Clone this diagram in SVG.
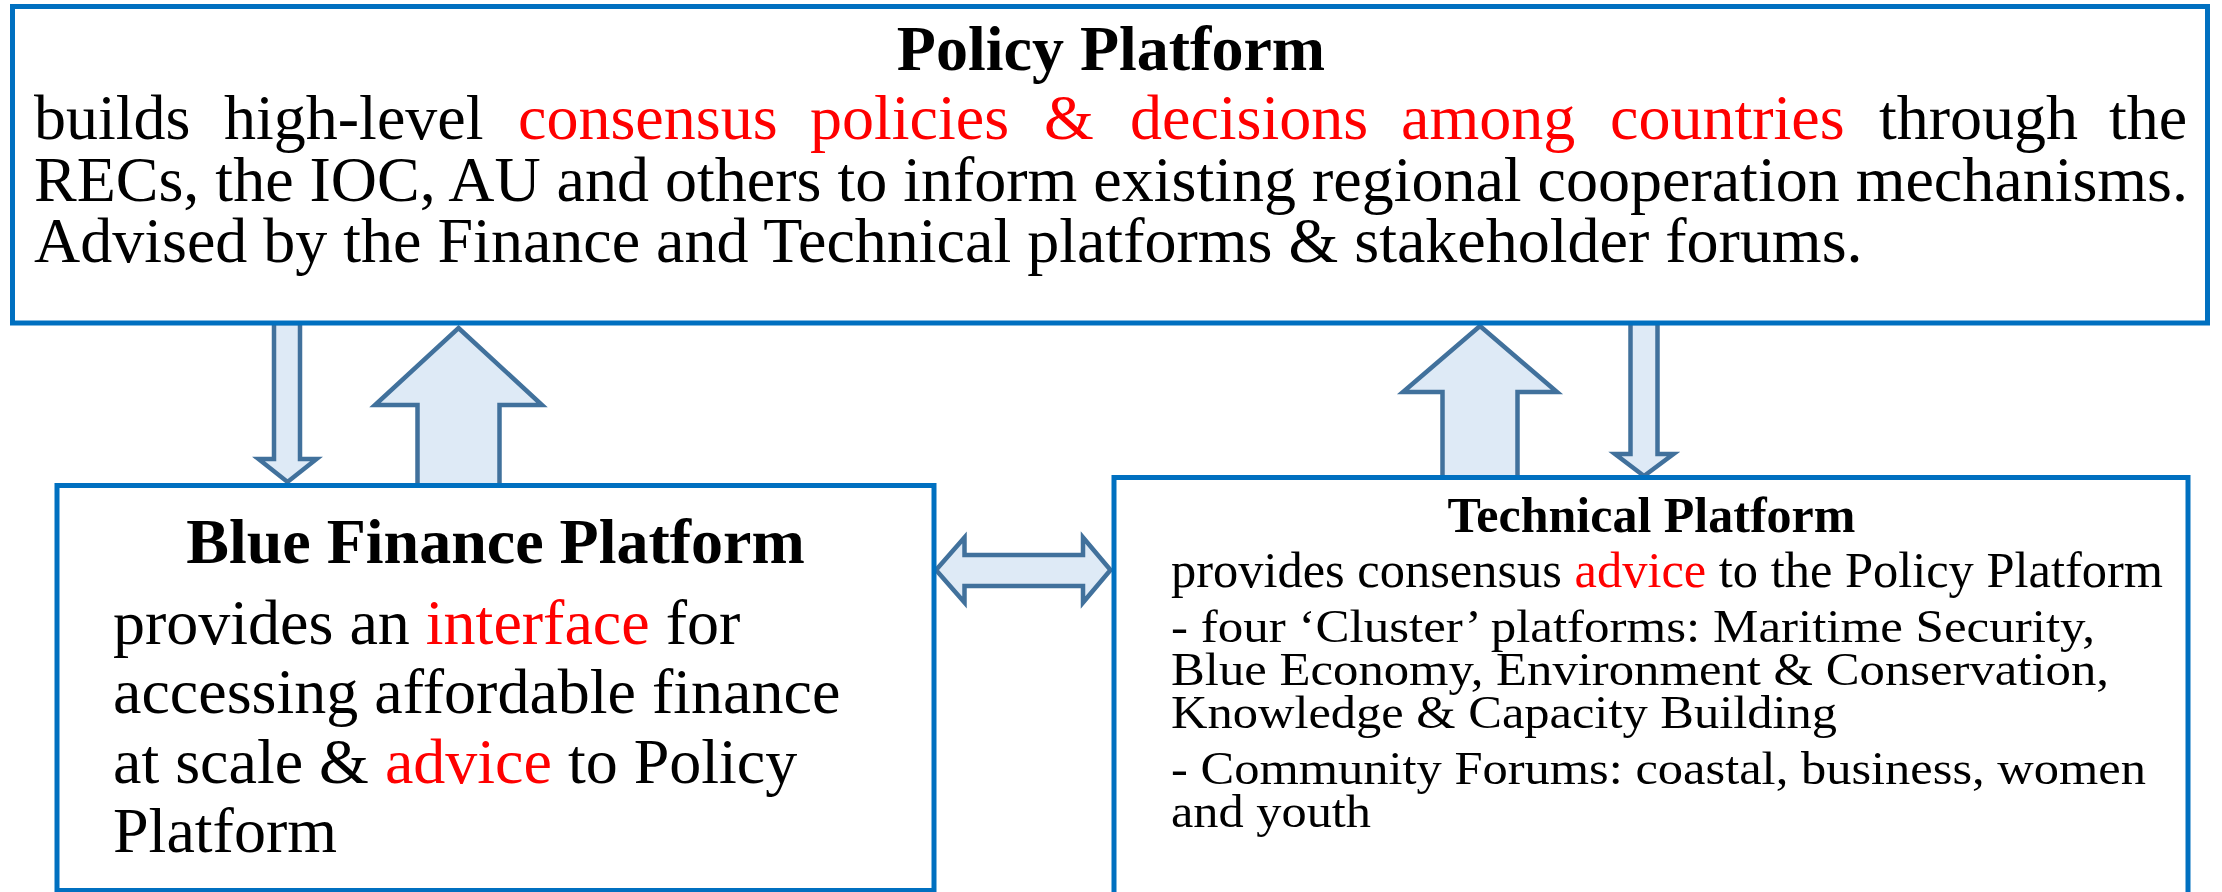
<svg xmlns="http://www.w3.org/2000/svg" width="2222" height="892" viewBox="0 0 2222 892">
  <style>
    .box { fill: #ffffff; stroke: #0070C0; stroke-width: 5; }
    .arrow { fill: #DEEAF6; stroke: #41719C; stroke-width: 4.5; stroke-linejoin: miter; stroke-miterlimit: 10; }
    .t { font-family: "Liberation Serif", "Times New Roman", serif; fill: #000000; }
    .b { font-weight: bold; text-anchor: middle; }
    .red { fill: #FF0000; }
  </style>

  <!-- connectors between the platforms -->
  <g id="connectors">
    <!-- Policy -> Blue Finance (thin, down) -->
    <path class="arrow" d="M274,323 L300,323 L300,459 L316.5,459 L287.5,482 L258.5,459 L274,459 Z"/>
    <!-- Blue Finance -> Policy (wide, up) -->
    <path class="arrow" d="M458.5,328 L542,405 L499.5,405 L499.5,486 L417.5,486 L417.5,405 L375,405 Z"/>
    <!-- Technical -> Policy (wide, up) -->
    <path class="arrow" d="M1480,326 L1557,392 L1517.5,392 L1517.5,478 L1442.5,478 L1442.5,392 L1403,392 Z"/>
    <!-- Policy -> Technical (thin, down) -->
    <path class="arrow" d="M1630.5,323 L1657.5,323 L1657.5,454 L1673.5,454 L1644,476 L1615,454 L1630.5,454 Z"/>
    <!-- Blue Finance <-> Technical -->
    <path class="arrow" d="M936,570 L964.5,537.5 L964.5,555 L1083,555 L1083,537.5 L1110.5,570 L1083,602.5 L1083,586 L964.5,586 L964.5,602.5 Z"/>
  </g>

  <!-- Policy Platform -->
  <g id="policy-platform">
    <rect class="box" x="12.5" y="6.5" width="2195" height="316.5"/>
    <text class="t b" x="1111" y="70" font-size="64">Policy Platform</text>
    <text class="t" y="139" font-size="64">
      <tspan x="34">builds</tspan>
      <tspan x="224">high-level</tspan>
      <tspan class="red" x="518">consensus</tspan>
      <tspan class="red" x="810">policies</tspan>
      <tspan class="red" x="1044">&amp;</tspan>
      <tspan class="red" x="1130">decisions</tspan>
      <tspan class="red" x="1401">among</tspan>
      <tspan class="red" x="1610">countries</tspan>
      <tspan x="1879">through</tspan>
      <tspan x="2109">the</tspan>
    </text>
    <text class="t" x="34" y="201" font-size="64" textLength="2154" lengthAdjust="spacing">RECs, the IOC, AU and others to inform existing regional cooperation mechanisms.</text>
    <text class="t" x="34" y="262" font-size="64">Advised by the Finance and Technical platforms &amp; stakeholder forums.</text>
  </g>

  <!-- Blue Finance Platform -->
  <g id="blue-finance-platform">
    <rect class="box" x="57" y="485.5" width="877" height="405"/>
    <text class="t b" x="495.5" y="563" font-size="64">Blue Finance Platform</text>
    <text class="t" x="113" y="644" font-size="64">provides an <tspan class="red">interface</tspan> for</text>
    <text class="t" x="113" y="713" font-size="64">accessing affordable finance</text>
    <text class="t" x="113" y="783" font-size="64">at scale &amp; <tspan class="red">advice</tspan> to Policy</text>
    <text class="t" x="113" y="852" font-size="64">Platform</text>
  </g>

  <!-- Technical Platform -->
  <g id="technical-platform">
    <rect class="box" x="1114" y="477.5" width="1074" height="430"/>
    <text class="t b" x="1651.5" y="532" font-size="50">Technical Platform</text>
    <text class="t" x="1171" y="587" font-size="50" textLength="992" lengthAdjust="spacingAndGlyphs">provides consensus <tspan class="red">advice</tspan> to the Policy Platform</text>
    <text class="t" x="1171" y="642" font-size="46" textLength="924" lengthAdjust="spacingAndGlyphs">- four ‘Cluster’ platforms: Maritime Security,</text>
    <text class="t" x="1171" y="685" font-size="46" textLength="938" lengthAdjust="spacingAndGlyphs">Blue Economy, Environment &amp; Conservation,</text>
    <text class="t" x="1171" y="728" font-size="46" textLength="666" lengthAdjust="spacingAndGlyphs">Knowledge &amp; Capacity Building</text>
    <text class="t" x="1171" y="784" font-size="46" textLength="975" lengthAdjust="spacingAndGlyphs">- Community Forums: coastal, business, women</text>
    <text class="t" x="1171" y="827" font-size="46" textLength="200" lengthAdjust="spacingAndGlyphs">and youth</text>
  </g>
</svg>
